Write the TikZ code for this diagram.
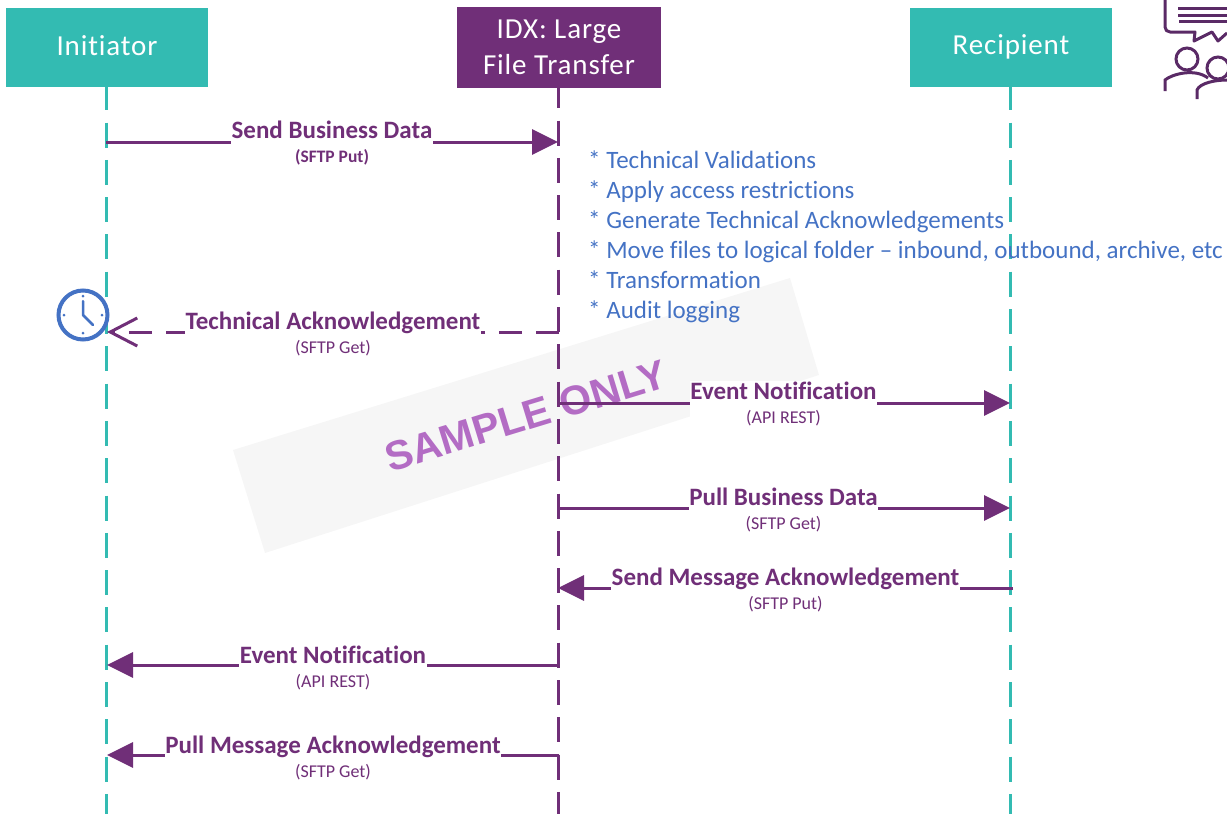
\documentclass[tikz,border=0pt]{standalone}
\usepackage{fontspec}
\setmainfont[Ligatures=NoCommon]{Carlito}
\newfontfamily\wmfont{Liberation Sans}
\usetikzlibrary{arrows.meta}
\definecolor{teal1}{HTML}{33BBB2}
\definecolor{plum}{HTML}{702F78}
\definecolor{plumdk}{HTML}{5A2A66}
\definecolor{blue1}{HTML}{4472C4}
\definecolor{wm}{HTML}{B36CC4}
\definecolor{band}{HTML}{F6F6F6}
\tikzset{
  x=1pt,y=-1pt,
  actor/.style={fill=teal1,text=white,minimum width=202pt,minimum height=79pt,inner sep=0pt,text height=20pt,text depth=6pt,font=\fontsize{29}{35}\selectfont\addfontfeature{LetterSpace=3},align=center},
  hub/.style={fill=plum,text=white,minimum width=204pt,minimum height=81pt,inner sep=0pt,font=\fontsize{29}{36}\selectfont\addfontfeature{LetterSpace=3},align=center},
  lifeT/.style={teal1,line width=3pt,dash pattern=on 25pt off 12.3pt,dash phase=2pt},
  lifeP/.style={plum,line width=3pt,dash pattern=on 25pt off 12.3pt,dash phase=5pt},
  msg/.style={plum,line width=3pt,-{Triangle[length=26pt,width=25pt]}},
  ret/.style={plum,line width=3pt,dash pattern=on 23pt off 14pt,-{Straight Barb[length=27pt,width=28pt,line width=3pt]}},
  lab/.style={midway,yshift=-1pt,fill=white,text=plum,inner xsep=0.5pt,inner ysep=1pt,align=center,font=\fontsize{18}{24}\selectfont},
  notes/.style={text=blue1,anchor=west,inner sep=0pt,font=\fontsize{25}{30}\selectfont,align=left},
}
\newcommand{\hd}[1]{{\fontsize{25}{24}\selectfont\bfseries #1}}
\begin{document}
\begin{tikzpicture}
\useasboundingbox (0,0) rectangle (1227,814);
% watermark band
\fill[band] (233,450) -- (790,278) -- (819,375) -- (265,553) -- cycle;
% actors
\node[actor] (ini) at (107,47.5) {\raisebox{-0.7pt}{Initiator}};
\node[hub] (idx) at (559,47.5) {\raisebox{1pt}{IDX: Large}\\\raisebox{1pt}{File Transfer}};
\node[actor] (rec) at (1011,47.5) {Recipient};
% lifeline ends
\coordinate (iniS) at ([xshift=-0.5pt]ini.south);
\coordinate (idxS) at ([xshift=-0.7pt]idx.south);
\coordinate (recS) at ([xshift=-0.5pt]rec.south);
\coordinate (iniE) at (iniS |- 0,814);
\coordinate (idxE) at (idxS |- 0,814);
\coordinate (recE) at (recS |- 0,814);
\draw[lifeT] (iniS) -- (iniE);
\draw[lifeP] (idxS) -- (idxE);
\draw[lifeT] (recS) -- (recE);
% watermark text
\node[rotate=17,text=wm,inner sep=0pt,font=\fontsize{41}{41}\selectfont\wmfont\bfseries] (wmt) at (526,416) {SAMPLE ONLY};
% message anchors
\coordinate (a1) at (106,142); \coordinate (b1) at (558,142);
\coordinate (a2) at (559,332); \coordinate (b2) at (107,332);
\coordinate (a3) at (557,403); \coordinate (b3) at (1010,403);
\coordinate (a4) at (557,508); \coordinate (b4) at (1010,508);
\coordinate (a5) at (1013,588); \coordinate (b5) at (558,588);
\coordinate (a6) at (559,665); \coordinate (b6) at (107,665);
\coordinate (a7) at (559,755); \coordinate (b7) at (107,755);
% messages
\draw[msg] (a1) -- (b1) node[lab] {\hd{Send Business Data}\\{\fontsize{17.5}{24}\selectfont\textbf{(SFTP Put)}}};
\draw[ret] (a2) -- (b2) node[lab,yshift=-1pt] {\hd{Technical Acknowledgement}\\(SFTP Get)};
\draw[msg] (a3) -- (b3) node[lab] {\hd{Event Notification}\\(API REST)};
\draw[msg] (a4) -- (b4) node[lab,yshift=-1pt] {\hd{Pull Business Data}\\(SFTP Get)};
\draw[msg] (a5) -- (b5) node[lab,yshift=-1pt] {\hd{Send Message Acknowledgement}\\(SFTP Put)};
\draw[msg] (a6) -- (b6) node[lab,yshift=-2pt] {\hd{Event Notification}\\(API REST)};
\draw[msg] (a7) -- (b7) node[lab,yshift=-2pt] {\hd{Pull Message Acknowledgement}\\(SFTP Get)};
% notes
\node[notes] (nt) at (588,236.5) {* Technical Validations\\* Apply access restrictions\\* Generate Technical Acknowledgements\\* Move files to logical folder -- inbound, outbound, archive, etc\\* Transformation\\* Audit logging};
% clock
\draw[blue1,line width=4pt,fill=white] (83,315) circle (24.5);
\draw[blue1,line width=2.5pt,line cap=round,line join=round] (83,301) -- (83,315) -- (93,325);
\foreach \px/\py in {83/296,83/333,64/315,102/315}{\fill[blue1] (\px,\py) circle (1.5);}
% icon
\draw[plumdk,line width=3pt,line join=round] (1165,0) -- (1165,27) arc[start angle=180,end angle=90,radius=5] -- (1195,32) -- (1194,41) -- (1212,32) -- (1218,41) -- (1227,33);
\draw[plumdk,line width=3pt] (1178,8) -- (1227,8) (1178,15) -- (1227,15) (1179,21) -- (1227,21);
\draw[plumdk,line width=3pt] (1187,59) circle (11);
\draw[plumdk,line width=3pt] (1218,68) circle (11);
\draw[plumdk,line width=3pt] (1165,91) -- (1165,80) .. controls (1172,74) and (1195,68) .. (1208,78);
\draw[plumdk,line width=3pt] (1197,99) -- (1197,90) .. controls (1200,83) and (1215,80) .. (1227,80);
\end{tikzpicture}
\end{document}
